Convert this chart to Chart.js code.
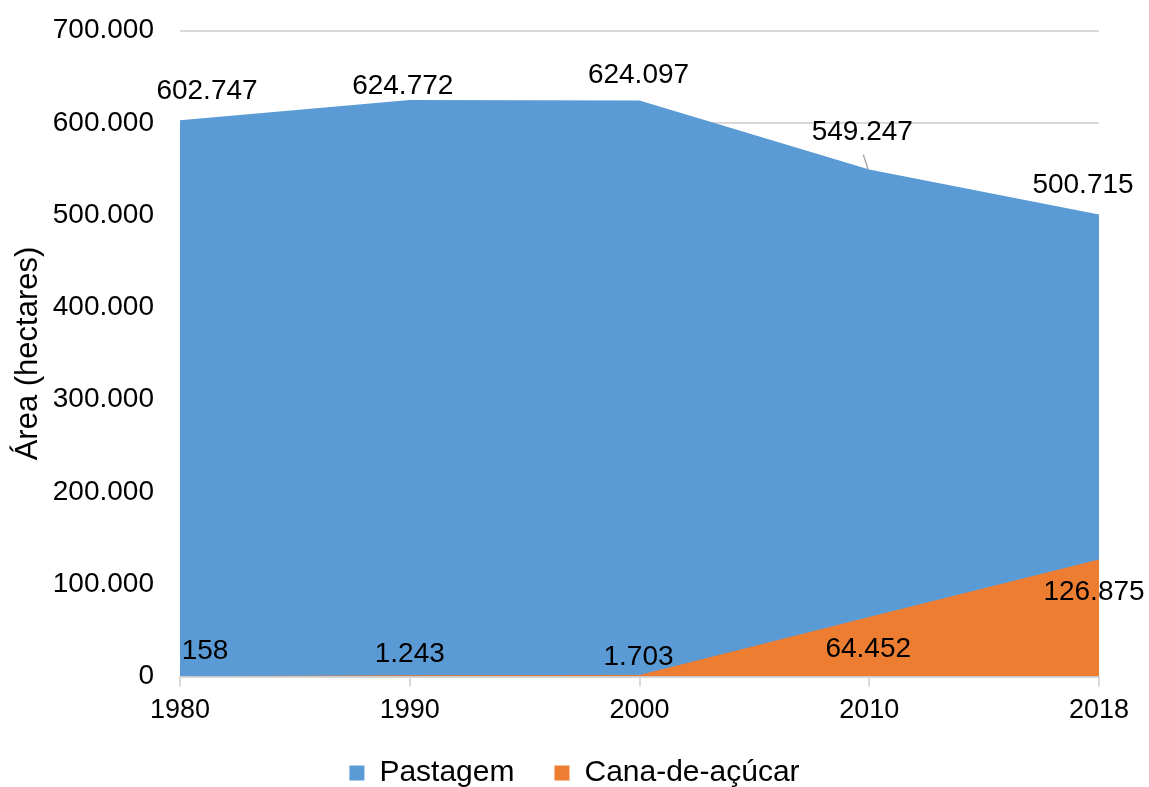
<!DOCTYPE html>
<html>
<head>
<meta charset="utf-8">
<script src="https://cdn.jsdelivr.net/npm/chart.js@4/dist/chart.umd.min.js"></script>
<style>
  html, body { margin: 0; padding: 0; background: #fff; }
  #grafico { display: block; }
</style>
</head>
<body>
<canvas id="grafico" width="1149" height="787"></canvas>
<script>
// dados
let anos = ['1980', '1990', '2000', '2010', '2018'];
let pastagem = [602747, 624772, 624097, 549247, 500715];
let cana = [158, 1243, 1703, 64452, 126875];
let yTicks = [0, 100000, 200000, 300000, 400000, 500000, 600000, 700000];

// deslocamento dos rótulos (px) em relação ao ponto
let offPastagem = [[27, -29], [-7, -14], [-1, -25], [-7, -37], [-16, -29]];
let offCana = [[25, -25], [0, -21], [-1, -18], [-1, 32], [-5, 33]];

const FONTE = '"Liberation Sans", Arial, sans-serif';

function fmt(v) {
    return String(v).replace(/\B(?=(\d{3})+(?!\d))/g, '.');
}

const rotulos = {
    id: 'rotulos',
    afterDatasetsDraw(chart) {
        const ctx = chart.ctx;
        ctx.save();
        ctx.font = '28px ' + FONTE;
        ctx.fillStyle = '#000';
        ctx.textAlign = 'center';
        ctx.textBaseline = 'middle';
        chart.data.datasets.forEach((ds, i) => {
            const meta = chart.getDatasetMeta(i);
            const offs = i === 0 ? offPastagem : offCana;
            meta.data.forEach((pt, j) => {
                const x = pt.x + offs[j][0];
                const y = pt.y + offs[j][1];
                // linha de chamada quando o rótulo está afastado
                if (i === 0 && j === 3) {
                    ctx.strokeStyle = '#a6a6a6';
                    ctx.lineWidth = 1.5;
                    ctx.beginPath();
                    ctx.moveTo(x + 1, y + 22);
                    ctx.lineTo(pt.x - 1, pt.y);
                    ctx.stroke();
                }
                ctx.fillText(fmt(ds.data[j]), x, y);
            });
        });
        ctx.restore();
    }
};

new Chart(document.getElementById('grafico'), {
    type: 'line',
    data: {
        labels: anos,
        datasets: [{
            label: 'Pastagem',
            data: pastagem,
            backgroundColor: '#5B9BD5',
            borderColor: '#5B9BD5',
            borderWidth: 0,
            pointRadius: 0,
            fill: 'origin',
            tension: 0,
            order: 1
        }, {
            label: 'Cana-de-açúcar',
            data: cana,
            backgroundColor: '#ED7D31',
            borderColor: '#ED7D31',
            borderWidth: 0,
            pointRadius: 0,
            fill: 'origin',
            tension: 0,
            order: 0
        }]
    },
    options: {
        responsive: false,
        animation: false,
        layout: { padding: { top: 30.5, right: 0, left: 0, bottom: -11 } },
        plugins: {
            tooltip: { enabled: false },
            legend: {
                position: 'bottom',
                labels: {
                    font: { family: FONTE, size: 30 },
                    color: '#000',
                    boxWidth: 15,
                    boxHeight: 15,
                    padding: 40,
                    sort: (a, b) => a.datasetIndex - b.datasetIndex
                }
            }
        },
        scales: {
            x: {
                type: 'category',
                offset: false,
                grid: {
                    drawOnChartArea: false,
                    drawTicks: true,
                    tickLength: 10,
                    color: '#d9d9d9',
                    lineWidth: 2
                },
                border: { color: '#d9d9d9', width: 2 },
                ticks: {
                    font: { family: FONTE, size: 27 },
                    color: '#000',
                    padding: 8,
                    maxRotation: 0
                },
                afterFit(scale) {
                    scale.height = 41.5;
                    scale.paddingRight = 50;
                }
            },
            y: {
                min: 0,
                max: 700000,
                afterBuildTicks(scale) { scale.ticks = yTicks.map(v => ({ value: v })); },
                grid: {
                    color: '#d9d9d9',
                    lineWidth: 2,
                    drawTicks: true,
                    tickLength: 26,
                    tickColor: 'rgba(0,0,0,0)'
                },
                border: { display: false },
                ticks: {
                    font: { family: FONTE, size: 28 },
                    color: '#000',
                    padding: 0,
                    callback: v => fmt(v)
                },
                title: {
                    display: true,
                    text: 'Área (hectares)',
                    font: { family: FONTE, size: 31 },
                    color: '#000',
                    padding: { top: 10, bottom: 0 }
                },
                afterFit(scale) { scale.width = 180; }
            }
        }
    },
    plugins: [rotulos]
});
</script>
</body>
</html>
